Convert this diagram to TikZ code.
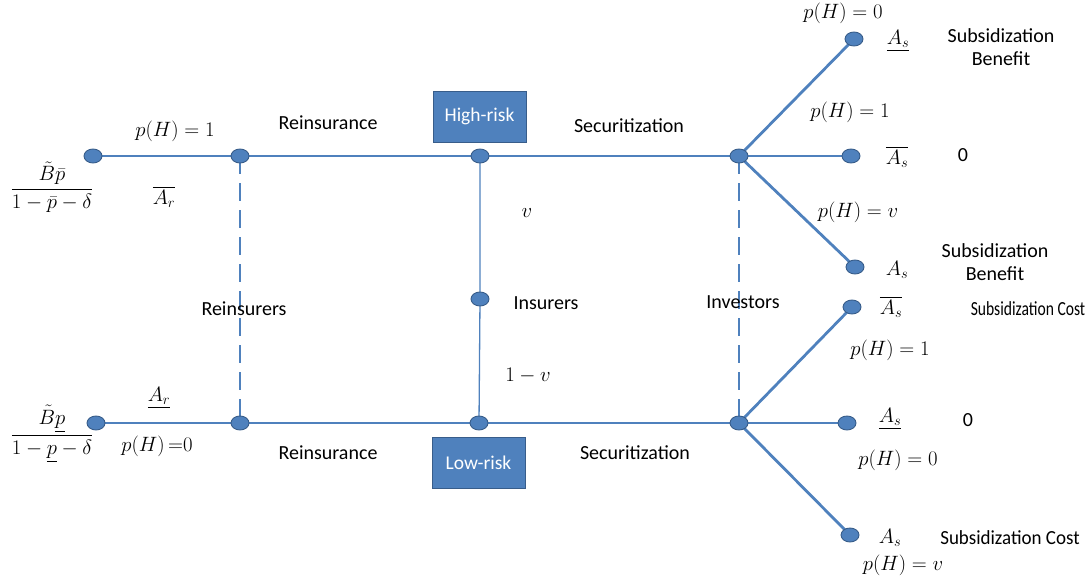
\documentclass[tikz,border=0pt]{standalone}
\usepackage{amsmath}
\usepackage{fontspec}
\setmainfont{Carlito}
\usetikzlibrary{shapes.geometric,backgrounds}
\definecolor{obl}{HTML}{4F81BD}
\definecolor{obd}{HTML}{385D8A}
\begin{document}
\begin{tikzpicture}[x=1pt,y=-1pt,
  dot/.style={ellipse,draw=obd,fill=obl,line width=0.9pt,minimum width=18pt,minimum height=14pt,inner sep=0pt},
  mainline/.style={draw=obl,line width=2.8pt},
  thinline/.style={draw=obl,line width=1.3pt},
  dashline/.style={draw=obl,line width=2.4pt,dash pattern=on 18pt off 9pt},
  riskbox/.style={draw=obd,fill=obl,line width=1pt,minimum width=93pt,minimum height=51pt,inner sep=0pt,text=white,font=\fontsize{19.5}{22}\selectfont},
  lab/.style={inner sep=0pt,font=\fontsize{20}{23}\selectfont},
  mlab/.style={inner sep=0pt,font=\fontsize{20.5}{24}\selectfont},
  twolines/.style={lab,align=center,font=\fontsize{20}{23.5}\selectfont}]
\useasboundingbox (0,0) rectangle (1091,581);
% nodes top
\node[dot] (t1) at (93,156) {};
\node[dot] (t2) at (240,156) {};
\node[dot] (t3) at (480,156) {};
\node[dot] (t4) at (739,156) {};
% bottom
\node[dot] (b1) at (96,423) {};
\node[dot] (b2) at (240,423) {};
\node[dot] (b3) at (479,423) {};
\node[dot] (b4) at (739,423) {};
% middle
\node[dot] (m) at (480,299) {};
% right top
\node[dot] (r1) at (854,39) {};
\node[dot] (r2) at (851,156) {};
\node[dot] (r3) at (855,267) {};
% right bottom
\node[dot] (r4) at (852,307) {};
\node[dot] (r5) at (847,423) {};
\node[dot] (r6) at (850,535) {};
% boxes
\node[riskbox] (hr) at (479.5,116.5) {High-risk};
\node[riskbox] (lr) at (478.5,463) {Low-risk};
% connectors
\begin{scope}[on background layer]
\path[mainline] (t1.center) -- (t2.center) -- (t3.center) -- (t4.center);
\path[mainline] (b1.center) -- (b2.center) -- (b3.center) -- (b4.center);
\path[thinline] (t3.center) -- (m.center) -- (b3.center);
\path[dashline] (t2.center) -- (b2.center);
\path[dashline] (t4.center) -- (b4.center);
\path[mainline] (t4.center) -- (r1.center);
\path[mainline] (t4.center) -- (r2.center);
\path[mainline] (t4.center) -- (r3.center);
\path[mainline] (b4.center) -- (r4.center);
\path[mainline] (b4.center) -- (r5.center);
\path[mainline] (b4.center) -- (r6.center);
\end{scope}
% left labels
\node[mlab] (l1) at (175,131) {$p(H)=1$};
\node[mlab] (l2) at (52,187) {$\dfrac{\tilde{B}\bar{p}}{1-\bar{p}-\delta}$};
\node[mlab] (l3) at (164,197) {$\overline{A_r}$};
\node[mlab] (l4) at (159,398) {$\underline{A_r}$};
\node[mlab] (l5) at (157,446) {$p(H)\,{=}0$};
\node[mlab] (l6) at (52,434) {$\dfrac{\tilde{B}\underline{p}}{1-\underline{p}-\delta}$};
% middle labels
\node[lab] (reins1) at (328,123) {Reinsurance};
\node[lab] (sec1) at (629,126) {Securitization};
\node[mlab] (vv) at (527,213) {$v$};
\node[lab] (ins) at (546,303) {Insurers};
\node[mlab] (omv) at (528,376) {$1-v$};
\node[lab] (reinsurers) at (244,309) {Reinsurers};
\node[lab] (inv) at (743,302) {Investors};
\node[lab] (reins2) at (328,453) {Reinsurance};
\node[lab] (sec2) at (635,453) {Securitization};
% right top labels
\node[mlab] (q1) at (843,13) {$p(H)=0$};
\node[mlab] (a1) at (898,41) {$\underline{A_s}$};
\node[twolines] (s1) at (1001,47) {Subsidization\\Benefit};
\node[mlab] (q2) at (850,112) {$p(H)=1$};
\node[mlab] (a2) at (897,157) {$\overline{A_s}$};
\node[lab] (z1) at (963,155) {0};
\node[mlab] (q3) at (858,212) {$p(H)=v$};
\node[mlab] (a3) at (897,270) {$A_s$};
\node[twolines] (s2) at (995,262) {Subsidization\\Benefit};
% right bottom labels
\node[mlab] (a4) at (891,307) {$\overline{A_s}$};
\node[lab] (s3) at (1028,309) {\scalebox{0.78}[1]{Subsidization Cost}};
\node[mlab] (q4) at (890,350) {$p(H)=1$};
\node[mlab] (a5) at (890,419) {$\underline{A_s}$};
\node[lab] (z2) at (968,420) {0};
\node[mlab] (q5) at (898,460) {$p(H)=0$};
\node[mlab] (a6) at (890,538) {$A_s$};
\node[lab] (s4) at (1010,538) {\scalebox{0.95}[1]{Subsidization Cost}};
\node[mlab] (q6) at (903,565) {$p(H)=v$};
\end{tikzpicture}
\end{document}
